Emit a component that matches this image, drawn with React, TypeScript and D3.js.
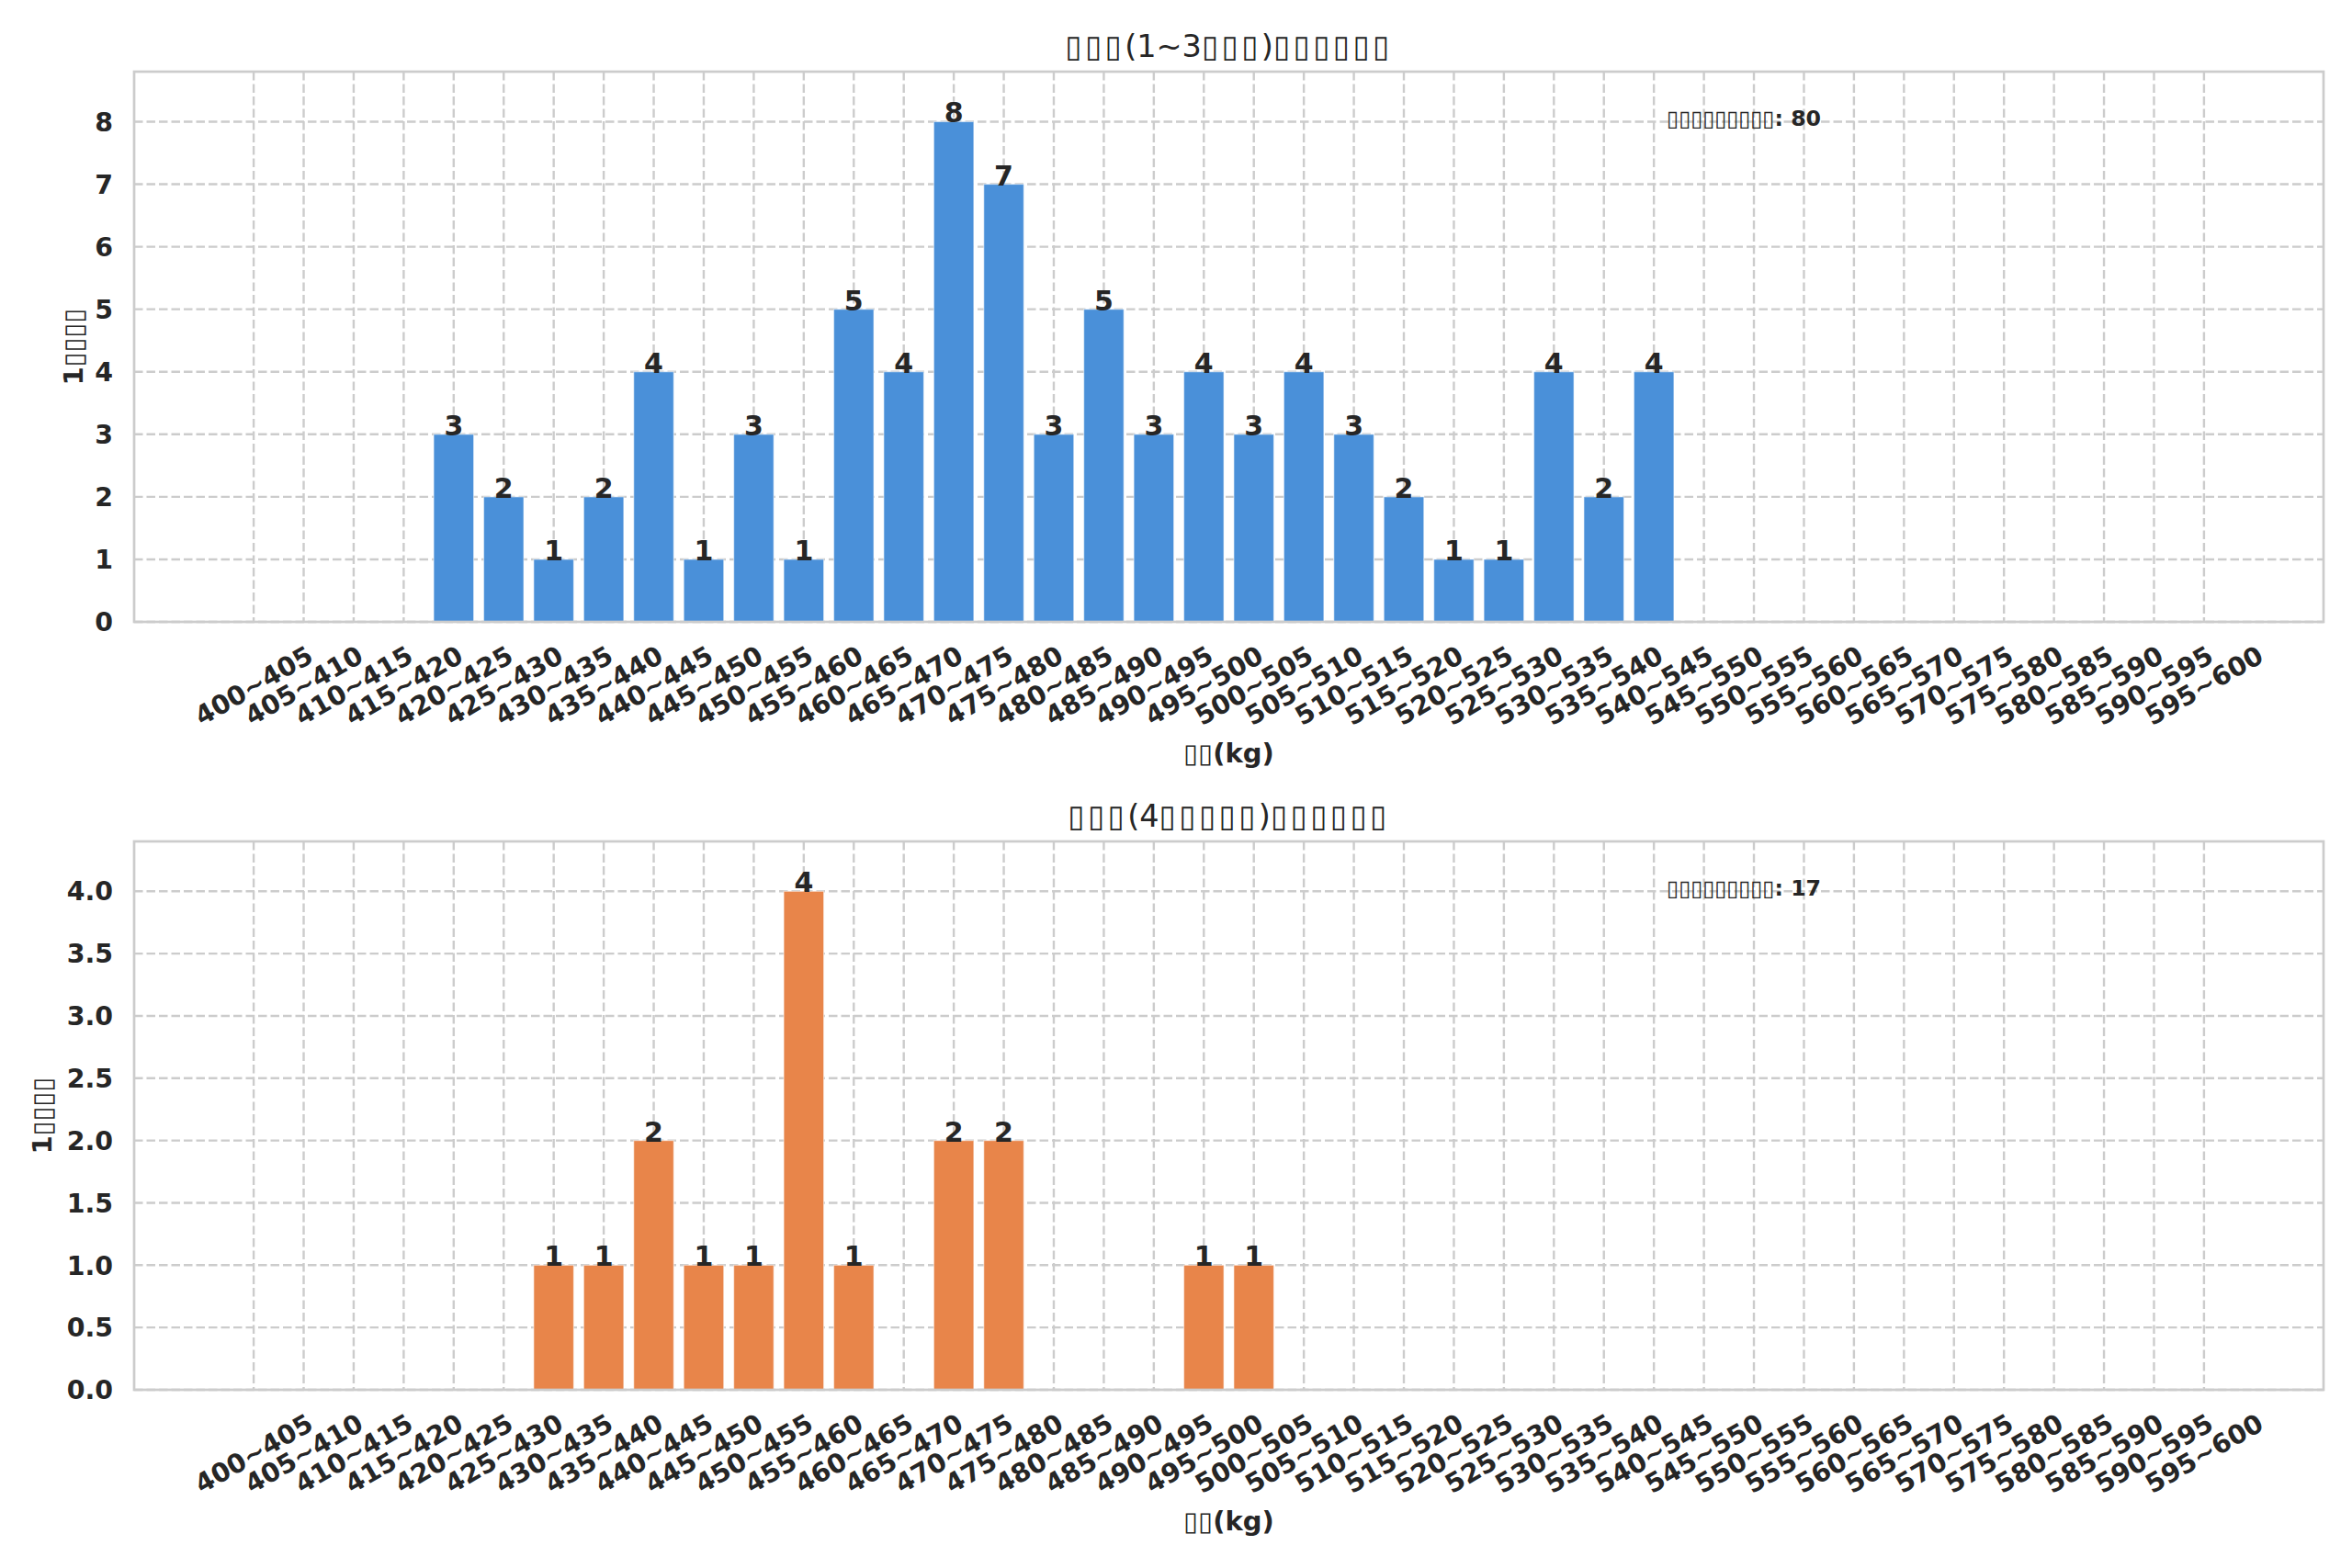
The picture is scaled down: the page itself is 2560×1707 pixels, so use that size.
import React, { useEffect, useRef } from 'react';
import * as d3 from 'd3';

// weight bins (kg)
const bins: string[] = [
  '400~405', '405~410', '410~415', '415~420', '420~425', '425~430', '430~435', '435~440',
  '440~445', '445~450', '450~455', '455~460', '460~465', '465~470', '470~475', '475~480',
  '480~485', '485~490', '490~495', '495~500', '500~505', '505~510', '510~515', '515~520',
  '520~525', '525~530', '530~535', '535~540', '540~545', '545~550', '550~555', '555~560',
  '560~565', '565~570', '570~575', '575~580', '580~585', '585~590', '590~595', '595~600',
];

// counts for 1~3 place finishers
const topCounts: number[] = [
  0, 0, 0, 0, 3, 2, 1, 2, 4, 1, 3, 1, 5, 4, 8, 7, 3, 5, 3, 4,
  3, 4, 3, 2, 1, 1, 4, 2, 4, 0, 0, 0, 0, 0, 0, 0, 0, 0, 0, 0,
];

// counts for 4th and below
const lowCounts: number[] = [
  0, 0, 0, 0, 0, 0, 1, 1, 2, 1, 1, 4, 1, 0, 2, 2, 0, 0, 0, 1,
  1, 0, 0, 0, 0, 0, 0, 0, 0, 0, 0, 0, 0, 0, 0, 0, 0, 0, 0, 0,
];

const topTicks: number[] = [0, 1, 2, 3, 4, 5, 6, 7, 8];
const lowTicks: number[] = [0, 0.5, 1, 1.5, 2, 2.5, 3, 3.5, 4];

// the original labels were drawn without CJK glyphs (tofu boxes)
const topTitle = '▯▯▯(1~3▯▯▯)▯▯▯▯▯▯';
const lowTitle = '▯▯▯(4▯▯▯▯▯)▯▯▯▯▯▯';
const yLabel = '1▯▯▯▯';
const xLabel = '▯▯(kg)';
const totalLabel = '▯▯▯▯▯▯▯▯▯';

const W = 2560;
const H = 1707;
const TEXT = '#262626';
const GRID = '#cccccc';
const FONT = '"DejaVu Sans", sans-serif';

interface PanelOpts {
  top: number;
  bottom: number;
  counts: number[];
  ticks: number[];
  fmt: (v: number) => string;
  color: string;
  title: string;
  ylabelX: number;
}

// split a label into runs of tofu boxes and normal glyphs
const runs = (s: string) => s.match(/▯+|[^▯]+/g) || [];

function App() {
  const ref = useRef<SVGSVGElement>(null);

  useEffect(() => {
    document.body.style.margin = '0';
    const svg = d3.select(ref.current);
    svg.selectAll('*').remove();

    const left = 146;
    const right = 2529;
    const n = bins.length;
    const pad = 0.05 * (n - 1 + 0.8);
    const x = d3.scaleLinear()
      .domain([-0.4 - pad, n - 1 + 0.4 + pad])
      .range([left, right]);
    const bw = x(0.8) - x(0);

    const drawPanel = (o: PanelOpts) => {
      const max = d3.max(o.counts) as number;
      const y = d3.scaleLinear().domain([0, max * 1.1]).range([o.bottom, o.top]);
      const g = svg.append('g');

      // grid
      g.selectAll('.hgrid')
        .data(o.ticks)
        .enter().append('line')
        .attr('x1', left).attr('x2', right)
        .attr('y1', d => y(d)).attr('y2', d => y(d))
        .attr('stroke', GRID).attr('stroke-width', 2.4)
        .attr('stroke-dasharray', '9.5 4');
      g.selectAll('.vgrid')
        .data(bins)
        .enter().append('line')
        .attr('x1', (d, i) => x(i)).attr('x2', (d, i) => x(i))
        .attr('y1', o.top).attr('y2', o.bottom)
        .attr('stroke', GRID).attr('stroke-width', 2.4)
        .attr('stroke-dasharray', '9.5 4');

      // bars
      g.selectAll('.bar')
        .data(o.counts)
        .enter().append('rect')
        .attr('x', (d, i) => x(i) - bw / 2)
        .attr('width', bw)
        .attr('y', d => y(d))
        .attr('height', d => o.bottom - y(d))
        .attr('fill', o.color)
        .attr('stroke', 'rgba(255,255,255,0.5)')
        .attr('stroke-width', d => (d > 0 ? 1.2 : 0));

      // value labels
      g.selectAll('.val')
        .data(o.counts.map((v, i) => ({ v, i })).filter(d => d.v > 0))
        .enter().append('text')
        .attr('x', d => x(d.i))
        .attr('y', d => y(d.v) + 1)
        .attr('text-anchor', 'middle')
        .attr('font-family', FONT).attr('font-weight', 'bold')
        .attr('font-size', 30).attr('fill', TEXT)
        .text(d => d.v);

      // frame
      g.append('rect')
        .attr('x', left).attr('y', o.top)
        .attr('width', right - left).attr('height', o.bottom - o.top)
        .attr('fill', 'none').attr('stroke', GRID).attr('stroke-width', 2.7);

      // y tick labels
      g.selectAll('.ytick')
        .data(o.ticks)
        .enter().append('text')
        .attr('x', left - 23)
        .attr('y', d => y(d))
        .attr('dy', '0.36em')
        .attr('text-anchor', 'end')
        .attr('font-family', FONT).attr('font-weight', 'bold')
        .attr('font-size', 28.4).attr('fill', TEXT)
        .text(d => o.fmt(d));

      // x tick labels, rotated 30deg and centred on the tick
      g.selectAll('.xtick')
        .data(bins)
        .enter().append('text')
        .attr('transform', (d, i) => `translate(${x(i)},${o.bottom + 69}) rotate(-30)`)
        .attr('text-anchor', 'middle')
        .attr('dy', '0.36em')
        .attr('font-family', FONT).attr('font-weight', 'bold')
        .attr('font-size', 28.4).attr('fill', TEXT)
        .text(d => d);

      // title
      const t = g.append('text')
        .attr('x', (left + right) / 2).attr('y', o.top - 16)
        .attr('text-anchor', 'middle')
        .attr('font-family', FONT).attr('font-size', 33.5).attr('fill', TEXT);
      t.selectAll('tspan')
        .data(runs(o.title))
        .enter().append('tspan')
        .attr('letter-spacing', d => (d[0] === '▯' ? 3.2 : 0))
        .text(d => d);

      // axis labels
      g.append('text')
        .attr('x', (left + right) / 2).attr('y', o.bottom + 153)
        .attr('text-anchor', 'middle')
        .attr('font-family', FONT).attr('font-weight', 'bold')
        .attr('font-size', 29).attr('fill', TEXT)
        .text(xLabel);
      g.append('text')
        .attr('transform', `translate(${o.ylabelX},${(o.top + o.bottom) / 2}) rotate(-90)`)
        .attr('text-anchor', 'middle')
        .attr('dy', '0.36em')
        .attr('font-family', FONT).attr('font-weight', 'bold')
        .attr('font-size', 29).attr('fill', TEXT)
        .text(yLabel);

      // total annotation at 70% of the axes width
      g.append('text')
        .attr('x', left + 0.7 * (right - left)).attr('y', o.top + 59)
        .attr('font-family', FONT).attr('font-weight', 'bold')
        .attr('font-size', 23.7).attr('fill', TEXT)
        .text(`${totalLabel}: ${d3.sum(o.counts)}`);
    };

    drawPanel({
      top: 78, bottom: 677, counts: topCounts, ticks: topTicks,
      fmt: d3.format('d'), color: '#4a90d9', title: topTitle, ylabelX: 80,
    });
    drawPanel({
      top: 916, bottom: 1513, counts: lowCounts, ticks: lowTicks,
      fmt: d3.format('.1f'), color: '#e8854a', title: lowTitle, ylabelX: 46,
    });
  }, []);

  return (
    <svg ref={ref} width={W} height={H} style={{ display: 'block', background: '#fff' }} />
  );
}

export default App;
